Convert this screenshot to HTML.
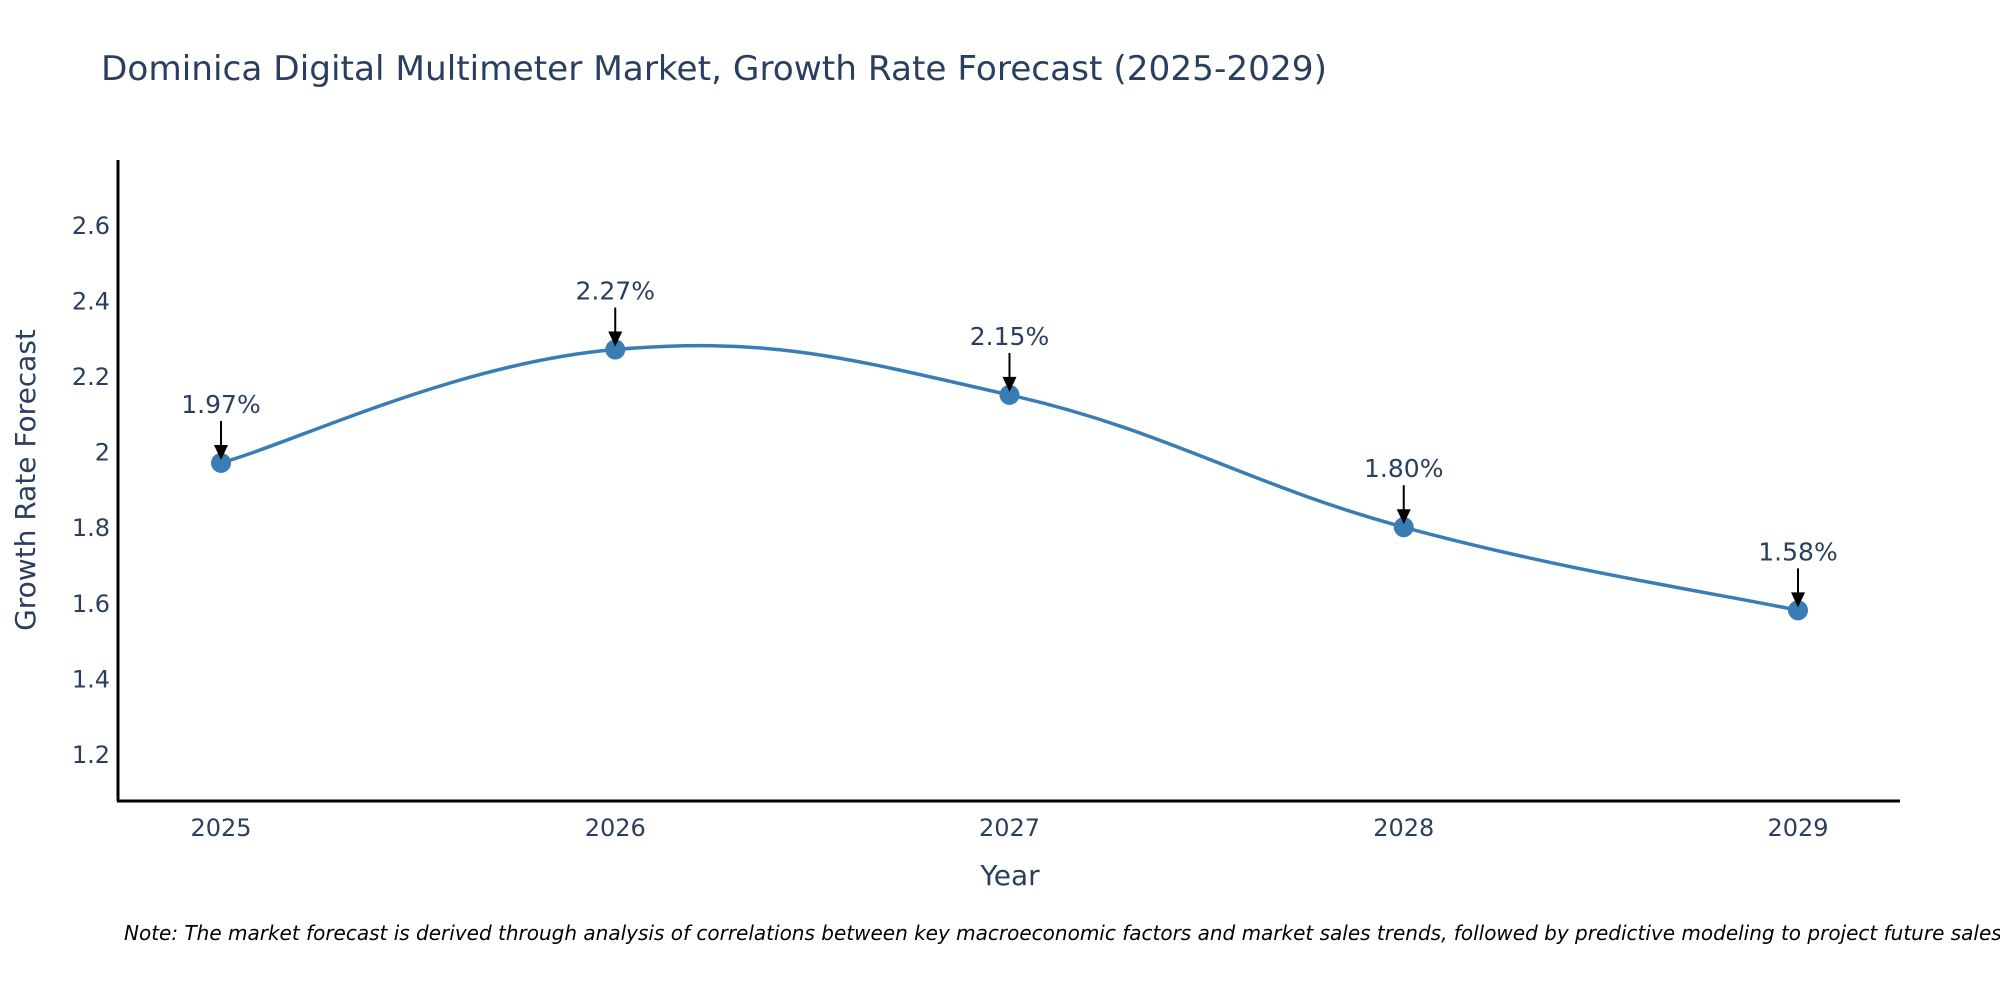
<!DOCTYPE html>
<html><head><meta charset="utf-8"><style>
body{margin:0;background:#fff;font-family:"Liberation Sans","DejaVu Sans",sans-serif}
</style></head><body>
<svg width="2000" height="1000" xmlns="http://www.w3.org/2000/svg" style="font-family:'DejaVu Sans','Liberation Sans',sans-serif">
<text x="101" y="80" font-size="34" fill="#2a3f5f" textLength="1226" lengthAdjust="spacingAndGlyphs">Dominica Digital Multimeter Market, Growth Rate Forecast (2025-2029)</text>
<g id="yticks"></g>
<g id="xticks"></g>
<path id="line" fill="none" stroke="#3a7db5" stroke-width="3.5"/>
<g id="pts"></g>
<line x1="118" y1="160" x2="118" y2="801" stroke="#000" stroke-width="3"/>
<line x1="117" y1="801" x2="1900" y2="801" stroke="#000" stroke-width="3"/>
<text transform="translate(35,480) rotate(-90)" text-anchor="middle" font-size="28" fill="#2a3f5f">Growth Rate Forecast</text>
<text x="1010" y="885" text-anchor="middle" font-size="28" fill="#2a3f5f">Year</text>
<text x="124" y="940" font-size="20" font-style="italic" fill="#000">Note: The market forecast is derived through analysis of correlations between key macroeconomic factors and market sales trends, followed by predictive modeling to project future sales.</text>
</svg>
<script>
const years=[2025,2026,2027,2028,2029];
const values=[1.97,2.27,2.15,1.80,1.58];
const labels=["1.97%","2.27%","2.15%","1.80%","1.58%"];
const yTicks=[1.2,1.4,1.6,1.8,2,2.2,2.4,2.6];
const NS="http://www.w3.org/2000/svg";
const X=v=>221+(v-2025)*394.25;
const Y=v=>754-(v-1.2)*378;
function mk(t,a,p){const e=document.createElementNS(NS,t);for(const k in a)e.setAttribute(k,a[k]);p.appendChild(e);return e;}
const yt=document.getElementById('yticks');
yTicks.forEach(v=>{const t=mk('text',{x:110,y:Y(v)+9,'text-anchor':'end','font-size':24,fill:'#2a3f5f'},yt);t.textContent=String(v);

});
const xt=document.getElementById('xticks');
years.forEach(v=>{const t=mk('text',{x:X(v),y:836,'text-anchor':'middle','font-size':24,fill:'#2a3f5f'},xt);t.textContent=String(v);

});
const P=years.map((y,i)=>[X(y),Y(values[i])]);
let d=`M${P[0][0]},${P[0][1]}`;const s=0.2;
for(let i=0;i<P.length-1;i++){const p0=P[Math.max(0,i-1)],p1=P[i],p2=P[i+1],p3=P[Math.min(P.length-1,i+2)];
const c1=[p1[0]+(p2[0]-p0[0])*s,p1[1]+(p2[1]-p0[1])*s],c2=[p2[0]-(p3[0]-p1[0])*s,p2[1]-(p3[1]-p1[1])*s];
d+=` C${c1[0]},${c1[1]} ${c2[0]},${c2[1]} ${p2[0]},${p2[1]}`;}
document.getElementById('line').setAttribute('d',d);
const g=document.getElementById('pts');
P.forEach((p,i)=>{
const c=mk('circle',{cx:p[0],cy:p[1],r:10,fill:'#3a7db5'},g);


const l=mk('line',{x1:p[0],y1:p[1]-42,x2:p[0],y2:p[1]-16,stroke:'#000','stroke-width':2},g);


const a=mk('polygon',{points:`${p[0]-7},${p[1]-18} ${p[0]+7},${p[1]-18} ${p[0]},${p[1]-3}`,fill:'#000'},g);


const t=mk('text',{x:p[0],y:p[1]-50,'text-anchor':'middle','font-size':25,fill:'#2a3f5f'},g);t.textContent=labels[i];


});
</script>
</body></html>
